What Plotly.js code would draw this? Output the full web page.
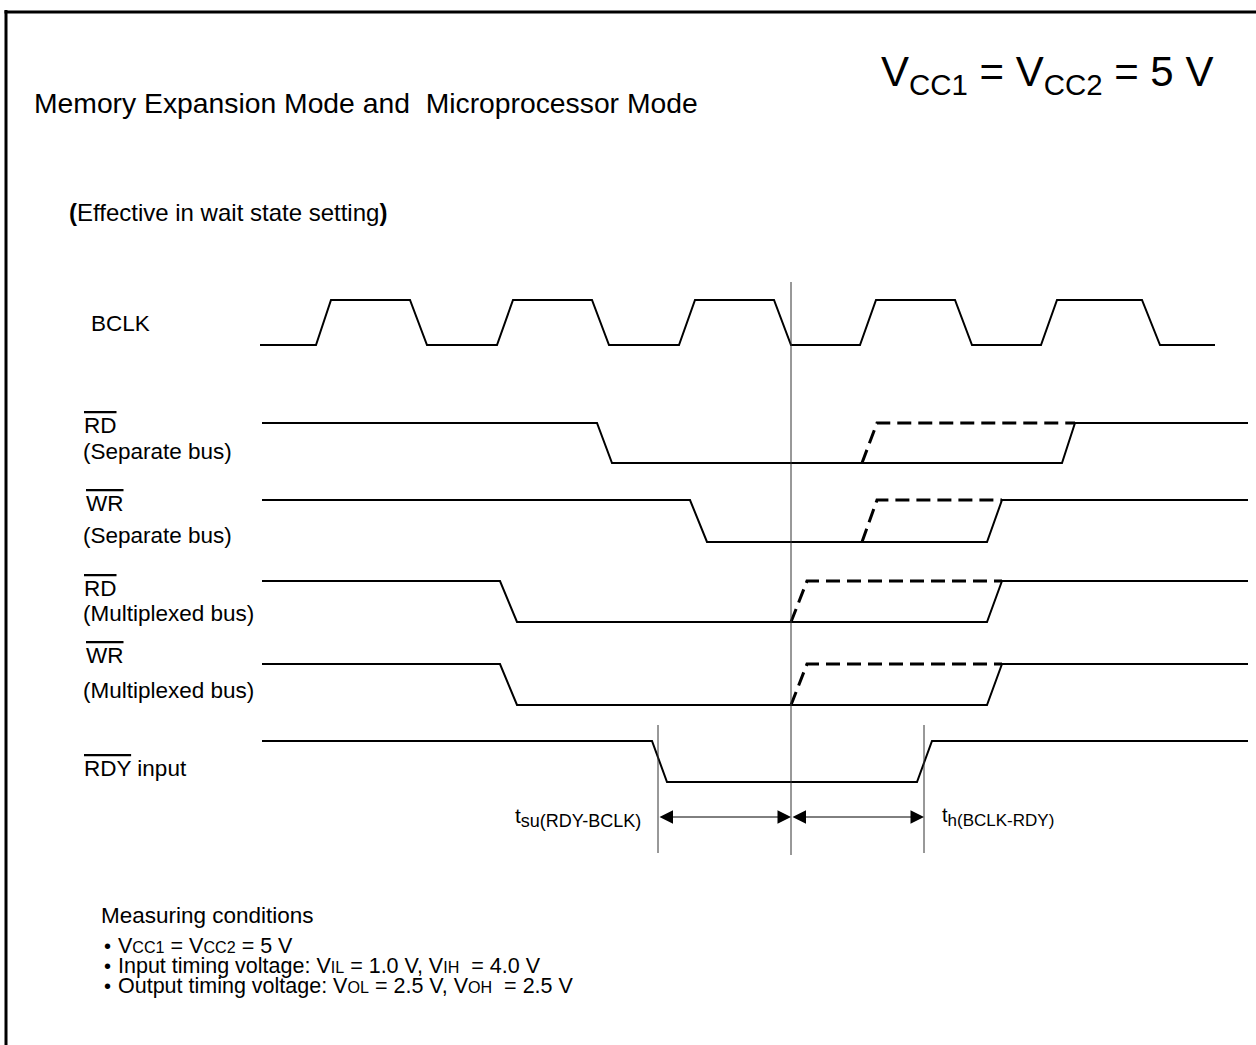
<!DOCTYPE html>
<html><head><meta charset="utf-8">
<script src="https://cdn.plot.ly/plotly-3.0.1.min.js"></script>
<style>html,body{margin:0;padding:0;background:#fff}#chart{width:1256px;height:1045px}</style>
</head><body><div id="chart"></div>
<script>
// ---- Timing data (time positions along the diagram; level 1 = high, 0 = low) ----
const bclkT = [260,316,331,410,427,497,513,592,609,679,695,774,791,860,876,955,972,1041,1057,1142,1160,1215];
const bclkL = [0,0,1,1,0,0,1,1,0,0,1,1,0,0,1,1,0,0,1,1,0,0];

const rdSepT = [262,597,612,1062,1075,1248];
const rdSepL = [1,1,0,0,1,1];
const rdSepDashT = [862,877,1075];
const rdSepDashL = [0,1,1];

const wrSepT = [262,690,707,987,1002,1248];
const wrSepL = [1,1,0,0,1,1];
const wrSepDashT = [862,877,1002];
const wrSepDashL = [0,1,1];

const rdMuxT = [262,500,517,987,1002,1248];
const rdMuxL = [1,1,0,0,1,1];
const rdMuxDashT = [791,807,1002];
const rdMuxDashL = [0,1,1];

const wrMuxT = [262,500,517,987,1002,1248];
const wrMuxL = [1,1,0,0,1,1];
const wrMuxDashT = [791,807,1002];
const wrMuxDashL = [0,1,1];

const rdyT = [262,652,667,917,932,1248];
const rdyL = [1,1,0,0,1,1];

// timing reference instants: t_su start, BCLK falling edge, t_h end
const refT = [658, 791, 924];

// ---- Labels ----
const sub = s => '<span style="font-size:75%">'+s+'</span>';
const titleText = 'Memory Expansion Mode and\u00a0 Microprocessor Mode';
const vccText = 'V<sub>CC1</sub> = V<sub>CC2</sub> = 5 V';
const noteText = '<b>(</b>Effective in wait state setting<b>)</b>';
const signalNames = ['BCLK','RD','WR','RD','WR','RDY'];
const signalSub = ['', '(Separate bus)', '(Separate bus)', '(Multiplexed bus)', '(Multiplexed bus)', ''];
const tsuText = 't<sub><span style="font-size:18px">su(RDY-BCLK)</span></sub>';
const thText = 't<sub><span style="font-size:17px">h(BCLK-RDY)</span></sub>';
const condTitle = 'Measuring conditions';
const condLines = [
  'V'+sub('CC1')+' = V'+sub('CC2')+' = 5 V',
  'Input timing voltage: V'+sub('IL')+' = 1.0 V, V'+sub('IH')+' \u00a0= 4.0 V',
  'Output timing voltage: V'+sub('OL')+' = 2.5 V, V'+sub('OH')+' \u00a0= 2.5 V'
];

// ---- Layout geometry (row placement, styles) ----
const FONT = 'Liberation Sans, Arial, Helvetica, sans-serif';
const rows = [ // [highY, lowY]
  [300,345],[423,463],[500,542],[581,622],[664,705],[741,782]
];
const toY = (levels, r) => levels.map(l => rows[r][1] - l*(rows[r][1]-rows[r][0]));

const solid = {color:'#000', width:2};
const dashed = {color:'#000', width:3, dash:'14px,7px'};
function tr(x, y, line){ return {type:'scatter', mode:'lines', x:x, y:y, line:line, hoverinfo:'skip'}; }

const traces = [
  tr(bclkT, toY(bclkL,0), solid),
  tr(rdSepT, toY(rdSepL,1), solid),
  tr(rdSepDashT, toY(rdSepDashL,1), dashed),
  tr(wrSepT, toY(wrSepL,2), solid),
  tr(wrSepDashT, toY(wrSepDashL,2), dashed),
  tr(rdMuxT, toY(rdMuxL,3), solid),
  tr(rdMuxDashT, toY(rdMuxDashL,3), dashed),
  tr(wrMuxT, toY(wrMuxL,4), solid),
  tr(wrMuxDashT, toY(wrMuxDashL,4), dashed),
  tr(rdyT, toY(rdyL,5), solid)
];

// reference vertical lines
const refSpan = [[725,853],[282,855],[725,853]];
refT.forEach((t,i)=>{
  traces.push(tr([t,t], refSpan[i], {color:'#333', width:1}));
});

const ann = [];
function txt(x,y,text,size,anchor,extra){
  ann.push(Object.assign({xref:'x',yref:'y',x:x,y:y,text:text,showarrow:false,
    xanchor:anchor||'left',yanchor:'middle',font:{family:FONT,size:size,color:'#000'}},extra||{}));
}
txt(32,103,titleText,28.3);
txt(879,74,vccText,42);
txt(67,212,noteText,24);

const labelX = [89,82,84,82,84,82];
const labelY = [323,425,503,588,655,768];
const subY = [0,451,535,613,690,0];
signalNames.forEach((n,i)=>{
  let t = n;
  if(i>0) t = '<span style="text-decoration:overline">'+n+'</span>';
  if(i===5) t += ' input';
  txt(labelX[i],labelY[i],t,22.5);
  if(signalSub[i]) txt(81,subY[i],signalSub[i],22.5);
});

// timing arrows
const arrowY = 817;
[[refT[0],refT[1]],[refT[1],refT[2]]].forEach(p=>{
  ann.push({xref:'x',yref:'y',axref:'x',ayref:'y',x:p[1],y:arrowY,ax:p[0],ay:arrowY,text:'',
    showarrow:true,arrowhead:2,startarrowhead:2,arrowside:'end+start',arrowsize:2.7,startarrowsize:2.7,
    arrowwidth:1,arrowcolor:'#000',standoff:0,startstandoff:0});
});
txt(643,817,tsuText,21,'right');
txt(940,817,thText,20,'left');

txt(99,915,condTitle,22.5);
condLines.forEach((l,i)=>{
  txt(102,946+i*20,'\u2022',20);
  txt(116,946+i*20,l,21.5);
});

const shapes = [
  {type:'line',xref:'x',yref:'y',x0:6,y0:10,x1:6,y1:1045,line:{color:'#000',width:3}},
  {type:'line',xref:'x',yref:'y',x0:4.5,y0:12,x1:1256,y1:12,line:{color:'#000',width:3}}
];

const layout = {
  width:1256, height:1045, margin:{l:0,r:0,t:0,b:0},
  paper_bgcolor:'#fff', plot_bgcolor:'#fff', showlegend:false,
  xaxis:{range:[0,1256],visible:false,fixedrange:true},
  yaxis:{range:[1045,0],visible:false,fixedrange:true},
  annotations:ann, shapes:shapes
};
Plotly.newPlot('chart', traces, layout, {staticPlot:true, displayModeBar:false});
</script></body></html>
